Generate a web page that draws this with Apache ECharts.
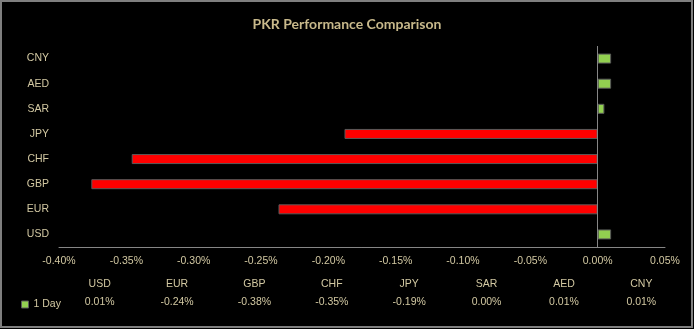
<!DOCTYPE html>
<html>
<head>
<meta charset="utf-8">
<script src="https://cdn.jsdelivr.net/npm/echarts@6/dist/echarts.min.js"></script>
<style>
html,body{margin:0;padding:0;background:#000;}
#c{width:694px;height:329px;}
</style>
</head>
<body>
<div id="c"></div>
<script>
var categories = ['USD','EUR','GBP','CHF','JPY','SAR','AED','CNY'];
var values = [0.0001, -0.00237, -0.00376, -0.00346, -0.00188, 0.00005, 0.0001, 0.0001];
var tableValues = ['0.01%','-0.24%','-0.38%','-0.35%','-0.19%','0.00%','0.01%','0.01%'];
var seriesName = '1 Day';
var titleText = 'PKR Performance Comparison';

var labelColor = '#d2c8a2';
var font = 'Liberation Sans, Arial, sans-serif';
var chart = echarts.init(document.getElementById('c'));
chart.setOption({
  backgroundColor: '#000',
  animation: false,
  title: {
    text: titleText, left: 'center', top: 12,
    textStyle: {color: '#c8b98b', fontFamily: 'Lato, sans-serif', fontWeight: 'bold', fontSize: 14}
  },
  graphic: [{
    type: 'rect', shape: {x: 1, y: 1, width: 691, height: 326},
    style: {fill: 'none', stroke: '#7f7f7f', lineWidth: 2}, silent: true
  }],
  legend: {
    data: [{name: seriesName, itemStyle: {color: '#92d050', borderColor: '#5a5a5a', borderWidth: 1}}],
    left: 16, top: 294, icon: 'rect', itemWidth: 7, itemHeight: 7, itemGap: 4,
    textStyle: {color: labelColor, fontFamily: font, fontSize: 10.5}
  },
  grid: [
    {left: 59, right: 29, top: 46, height: 201},
    {left: 61, right: 14, top: 292, height: 4}
  ],
  xAxis: [
    {
      type: 'value', gridIndex: 0, min: -0.004, max: 0.0005, interval: 0.0005,
      axisLine: {show: true, lineStyle: {color: '#868686', width: 1}},
      axisTick: {show: false}, splitLine: {show: false},
      axisLabel: {color: labelColor, fontFamily: font, fontSize: 10.5, margin: 9,
        formatter: function (v) { return (v * 100).toFixed(2) + '%'; }}
    },
    {
      type: 'category', gridIndex: 1, position: 'top', data: categories,
      axisLine: {show: false}, axisTick: {show: false},
      axisLabel: {color: labelColor, fontFamily: font, fontSize: 10.5, margin: 2, interval: 0}
    },
    {
      type: 'category', gridIndex: 1, position: 'bottom', data: tableValues,
      axisLine: {show: false}, axisTick: {show: false},
      axisLabel: {color: labelColor, fontFamily: font, fontSize: 10.5, margin: 1, interval: 0}
    }
  ],
  yAxis: [
    {
      type: 'category', gridIndex: 0, data: categories,
      axisLine: {show: false}, axisTick: {show: false},
      axisLabel: {color: labelColor, fontFamily: font, fontSize: 10.5, margin: 10}
    },
    {type: 'value', gridIndex: 1, show: false}
  ],
  series: [{
    name: seriesName, type: 'bar', xAxisIndex: 0, yAxisIndex: 0,
    barWidth: 10,
    data: values.map(function (v) {
      return {value: v, itemStyle: {color: v < 0 ? '#ff0000' : '#92d050'}};
    }),
    itemStyle: {color: '#92d050', borderColor: '#5a5a5a', borderWidth: 1},
    markLine: {
      silent: true, symbol: 'none', label: {show: false},
      lineStyle: {color: '#868686', type: 'solid', width: 1},
      data: [{xAxis: 0}]
    }
  }]
});
</script>
</body>
</html>
